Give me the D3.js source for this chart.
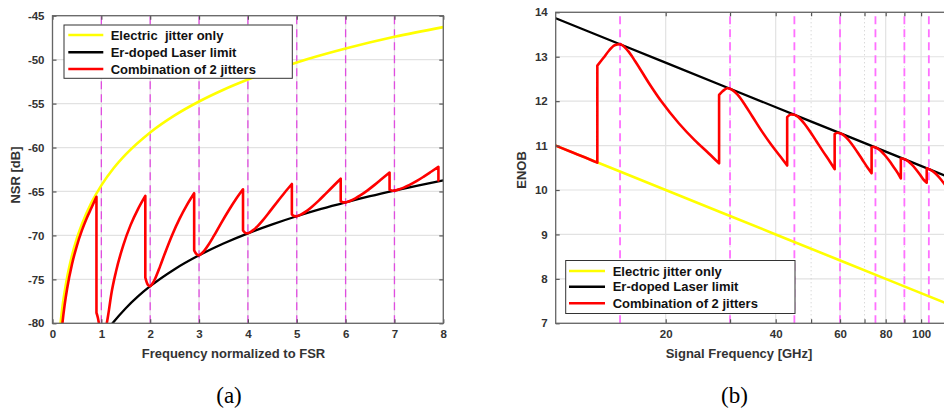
<!DOCTYPE html>
<html><head><meta charset="utf-8">
<script src="https://cdn.jsdelivr.net/npm/d3@7"></script>
<style>
body{margin:0;background:#fff}
svg{display:block}
</style>
</head><body>
<svg id="c" width="944" height="414"></svg>
<script>
// ---------- data: panel (a) ----------
const nsrTicks = [-80,-75,-70,-65,-60,-55,-50,-45];
const fsrTicks = [0,1,2,3,4,5,6,7,8];
const fsrCombLines = [1,2,3,4,5,6,7];
const nsrElectric = [[0.15,-80.78],[0.2,-78.28],[0.3,-74.76],[0.4,-72.26],[0.5,-70.32],[0.6,-68.74],[0.8,-66.24],[1,-64.3],[1.25,-62.36],[1.5,-60.78],[2,-58.28],[2.5,-56.34],[3,-54.76],[3.5,-53.42],[4,-52.26],[5,-50.32],[6,-48.74],[7,-47.4],[8,-46.3]];
const nsrLaser = [[1.2,-80.22],[1.25,-79.86],[1.5,-78.28],[1.75,-76.94],[2,-75.78],[2.5,-73.84],[3,-72.26],[3.5,-70.92],[4,-69.76],[4.5,-68.74],[5,-67.82],[5.5,-66.99],[6,-66.24],[6.5,-65.54],[7,-64.9],[7.5,-64.3],[8,-63.74]];
const nsrCombined = [
 [0.17,-81.9],[0.2,-80.15],[0.25,-77.85],[0.3,-76.04],[0.4,-73.25],[0.5,-71.15],[0.6,-69.46],[0.7,-68.04],[0.8,-66.83],[0.9,-65.6],
 [0.9,-78.8],[0.93,-79.4],[0.95,-80.0],[1.0,-81.8],
 [1.05,-81.0],[1.1,-80.3],[1.15,-78.7],[1.2,-76.8],[1.3,-74.1],[1.45,-71.1],[1.6,-68.8],[1.75,-67.0],[1.9,-65.5],
 [1.9,-74.8],[1.95,-75.6],[2.0,-75.78],
 [2.05,-75.45],[2.1,-74.93],[2.2,-73.55],[2.3,-72.05],[2.45,-69.94],[2.6,-68.12],[2.75,-66.55],[2.9,-65.2],
 [2.9,-71.7],[2.95,-72.15],[3.0,-72.26],
 [3.05,-72.06],[3.1,-71.78],[3.2,-71.01],[3.3,-70.09],[3.45,-68.62],[3.6,-67.22],[3.75,-65.92],[3.9,-64.75],
 [3.9,-69.45],[3.95,-69.72],[4.0,-69.76],
 [4.05,-69.62],[4.1,-69.43],[4.2,-68.94],[4.3,-68.32],[4.45,-67.27],[4.6,-66.19],[4.75,-65.14],[4.9,-64.15],
 [4.9,-67.6],[4.95,-67.81],[5.0,-67.82],
 [5.05,-67.72],[5.1,-67.58],[5.2,-67.23],[5.3,-66.79],[5.45,-66.04],[5.6,-65.21],[5.75,-64.38],[5.9,-63.55],
 [5.9,-66.1],[5.95,-66.24],[6.0,-66.24],
 [6.05,-66.16],[6.1,-66.05],[6.2,-65.78],[6.3,-65.45],[6.45,-64.87],[6.6,-64.22],[6.75,-63.53],[6.9,-62.85],
 [6.9,-64.8],[6.95,-64.91],[7.0,-64.9],
 [7.05,-64.84],[7.1,-64.74],[7.2,-64.53],[7.3,-64.28],[7.45,-63.83],[7.6,-63.31],[7.75,-62.76],[7.9,-62.2],
 [7.9,-63.75]
];
// ---------- data: panel (b) ----------
const enobTicks = [7,8,9,10,11,12,13,14];
const freqTicks = [20,40,60,80,100];
const freqMinorTicks = [30,50,70,90];
const freqCombLines = [15,30,45,60,75,90,105];
const enobElectric = [[10,11.0],[20,10.0],[40,9.0],[80,8.0],[120,7.415]];
const enobLaser = [[10,13.865],[15,13.28],[30,12.28],[60,11.28],[120,10.28]];
const enobCombined = [
 [10,11.0],[11,10.86],[12,10.737],[13,10.615],
 [13,12.8],[13.5,12.97],[14,13.14],[14.5,13.26],[15,13.28],
 [15.75,13.137],[16.5,12.90],[18,12.404],[19.5,11.985],[21.75,11.497],[24,11.122],[26.25,10.823],[28,10.6],
 [28,12.14],[28.5,12.21],[29,12.26],[29.5,12.29],[30,12.28],
 [30.75,12.224],[31.5,12.139],[33,11.91],[34.5,11.661],[36.75,11.309],[39,11.008],[41.25,10.748],[43,10.55],
 [43,11.64],[44,11.70],[45,11.695],
 [45.75,11.663],[46.5,11.616],[48,11.487],[49.5,11.335],[51.75,11.092],[54,10.859],[56.25,10.642],[58,10.47],
 [58,11.26],[59,11.29],[60,11.28],
 [60.75,11.257],[61.5,11.226],[63,11.144],[64.5,11.041],[66.75,10.867],[69,10.688],[71.25,10.512],[73.2,10.38],
 [73.2,10.96],[74,10.97],[75,10.96],
 [75.75,10.942],[76.5,10.919],[78,10.86],[79.5,10.788],[81.75,10.663],[84,10.524],[86.25,10.386],[88,10.26],
 [88,10.71],[89,10.71],[90,10.695],
 [90.75,10.683],[91.5,10.664],[93,10.62],[94.5,10.565],[96.75,10.468],[99,10.36],[101.25,10.246],[103.6,10.165],
 [103.6,10.49],[105,10.47],
 [105.75,10.462],[106.5,10.445],[108,10.412],[109.5,10.37],[111.75,10.295],[114,10.209],[116,10.13],[118,10.05]
];
const legendLabelsA = ["Electric  jitter only","Er-doped Laser limit","Combination of 2 jitters"];
const legendLabelsB = ["Electric jitter only","Er-doped Laser limit","Combination of 2 jitters"];
const seriesColors = ["#ffff00","#000000","#ff0000"];
const captions = ["(a)","(b)"];

// ---------- drawing ----------
const svg = d3.select("#c");
const TXT = "#333333";
const SANS = '"Liberation Sans",Arial,Helvetica,sans-serif';
const SERIF = '"Liberation Serif","Times New Roman",serif';

// path with smooth pieces and straight vertical jumps
function jumpPath(data, x, y){
  const pieces = [];
  let cur = [];
  data.forEach((d,i)=>{
    if(i>0 && d[0]===data[i-1][0]){ pieces.push(cur); cur=[]; }
    cur.push(d);
  });
  pieces.push(cur);
  const ln = d3.line().x(d=>x(d[0])).y(d=>y(d[1])).curve(d3.curveMonotoneX);
  return pieces.map((p,i)=>{
    if(p.length===1){ return (i===0?"M":"L")+x(p[0][0])+","+y(p[0][1]); }
    const s = ln(p).replace(/Z$/,"");
    return i===0 ? s : "L"+s.slice(1);
  }).join("");
}

function panel(opt){
  const {id,x,y,xTicks,xMinor,yTicks,combLines,combStyle,series,legend,xLabel,yLabel,xLabelPos,yLabelPos} = opt;
  const g = svg.append("g");
  const [x0,x1] = x.range(), [y0,y1] = y.range(); // y0 bottom
  g.append("clipPath").attr("id","clip"+id).append("rect")
    .attr("x",x0).attr("y",y1).attr("width",x1-x0).attr("height",y0-y1);
  // grid
  const grid = g.append("g");
  grid.selectAll(".hy").data(yTicks).join("line")
    .attr("x1",x0).attr("x2",x1).attr("y1",d=>y(d)).attr("y2",d=>y(d))
    .attr("stroke","#e2e2e2").attr("stroke-width",1.2);
  grid.selectAll(".vx").data(xTicks).join("line")
    .attr("y1",y0).attr("y2",y1).attr("x1",d=>x(d)).attr("x2",d=>x(d))
    .attr("stroke","#e2e2e2").attr("stroke-width",1.2);
  if(xMinor){
    grid.selectAll(".vm").data(xMinor).join("line")
      .attr("y1",y0).attr("y2",y1).attr("x1",d=>x(d)).attr("x2",d=>x(d))
      .attr("stroke","#c8c8c8").attr("stroke-width",1).attr("stroke-dasharray","1,3");
  }
  // comb lines
  g.append("g").selectAll("line").data(combLines).join("line")
    .attr("y1",y0).attr("y2",y1).attr("x1",d=>x(d)).attr("x2",d=>x(d))
    .attr("stroke",combStyle.color).attr("stroke-width",combStyle.width).attr("stroke-dasharray","8,5");
  // series
  const cg = g.append("g").attr("clip-path",`url(#clip${id})`);
  series.forEach((s,i)=>{
    cg.append("path").attr("d",jumpPath(s,x,y)).attr("fill","none")
      .attr("stroke",seriesColors[i]).attr("stroke-width",i===1?2.3:2.6)
      .attr("stroke-linejoin","round").attr("stroke-linecap","round");
  });
  // axes (inward ticks)
  const allX = xMinor ? xTicks.concat(xMinor) : xTicks;
  const fmtX = d => xTicks.includes(d) ? String(d) : "";
  const ax = g.append("g").attr("transform",`translate(0,${y0})`)
    .call(d3.axisBottom(x).tickValues(allX).tickFormat(fmtX).tickSizeInner(-4).tickSizeOuter(0).tickPadding(7));
  const axT = g.append("g").attr("transform",`translate(0,${y1})`)
    .call(d3.axisTop(x).tickValues(allX).tickFormat(()=>"").tickSizeInner(-4).tickSizeOuter(0));
  const ay = g.append("g").attr("transform",`translate(${x0},0)`)
    .call(d3.axisLeft(y).tickValues(yTicks).tickFormat(d=>String(d)).tickSizeInner(-4).tickSizeOuter(0).tickPadding(8));
  const ayR = g.append("g").attr("transform",`translate(${x1},0)`)
    .call(d3.axisRight(y).tickValues(yTicks).tickFormat(()=>"").tickSizeInner(-4).tickSizeOuter(0));
  [ax,axT,ay,ayR].forEach(a=>{
    a.select(".domain").remove();
    a.selectAll(".tick line").attr("stroke","#555").attr("stroke-width",1.2);
    a.selectAll("text").attr("fill",TXT).attr("font-size","11.5px").attr("font-weight","bold")
      .attr("font-family",SANS);
  });
  // border
  g.append("rect").attr("x",x0).attr("y",y1).attr("width",x1-x0).attr("height",y0-y1)
    .attr("fill","none").attr("stroke","#666").attr("stroke-width",1.3);
  // axis labels
  g.append("text").attr("x",xLabelPos[0]).attr("y",xLabelPos[1]).attr("text-anchor","middle")
    .attr("font-family",SANS).attr("font-size","13px").attr("font-weight","bold").attr("fill",TXT).text(xLabel);
  g.append("text").attr("transform",`translate(${yLabelPos[0]},${yLabelPos[1]}) rotate(-90)`)
    .attr("text-anchor","middle").attr("font-family",SANS).attr("font-size","13px").attr("font-weight","bold")
    .attr("fill",TXT).text(yLabel);
  // legend
  const lg = g.append("g");
  lg.append("rect").attr("x",legend.x).attr("y",legend.y).attr("width",legend.w).attr("height",legend.h)
    .attr("fill","#fff").attr("stroke","#333").attr("stroke-width",1);
  legend.labels.forEach((t,i)=>{
    const ry = legend.rows[i];
    lg.append("line").attr("x1",legend.lx0).attr("x2",legend.lx1).attr("y1",ry).attr("y2",ry)
      .attr("stroke",seriesColors[i]).attr("stroke-width",2.6);
    lg.append("text").attr("x",legend.tx).attr("y",ry+4.6).attr("font-family",SANS)
      .attr("font-size","13px").attr("font-weight","bold")
      .attr("fill","#111").style("white-space","pre").text(t);
  });
}

// panel (a)
const xa = d3.scaleLinear().domain([0,8]).range([52.5,443.3]);
const ya = d3.scaleLinear().domain([-80,-45]).range([323.3,15.7]);
panel({id:"a",x:xa,y:ya,xTicks:fsrTicks,yTicks:nsrTicks,combLines:fsrCombLines,
  combStyle:{color:"#e04ce0",width:1.3},
  series:[nsrElectric,nsrLaser,nsrCombined],
  legend:{x:64,y:25,w:228.3,h:53.3,rows:[35,52.3,69],lx0:68.3,lx1:103.3,tx:110.7,labels:legendLabelsA},
  xLabel:"Frequency normalized to FSR",yLabel:"NSR [dB]",xLabelPos:[233.5,357.5],yLabelPos:[20,175]});

// panel (b)
const xb = d3.scaleLog().domain([10,120]).range([555.7,555.7+365.4*Math.log10(12)]);
const yb = d3.scaleLinear().domain([7,14]).range([323.3,12.3]);
panel({id:"b",x:xb,y:yb,xTicks:freqTicks,xMinor:freqMinorTicks,yTicks:enobTicks,combLines:freqCombLines,
  combStyle:{color:"#ff70ff",width:1.8},
  series:[enobElectric,enobLaser,enobCombined],
  legend:{x:565.7,y:260.5,w:229.3,h:53,rows:[271,286.7,303.3],lx0:569,lx1:605,tx:612.7,labels:legendLabelsB},
  xLabel:"Signal Frequency [GHz]",yLabel:"ENOB",xLabelPos:[739,357.5],yLabelPos:[526,170]});

// captions
svg.selectAll(".cap").data(captions).join("text")
  .attr("x",(d,i)=>i===0?229:734.5).attr("y",402.5).attr("text-anchor","middle")
  .attr("font-family",SERIF).attr("font-size","23px").attr("fill","#000")
  .text(d=>d);
</script>
</body></html>
